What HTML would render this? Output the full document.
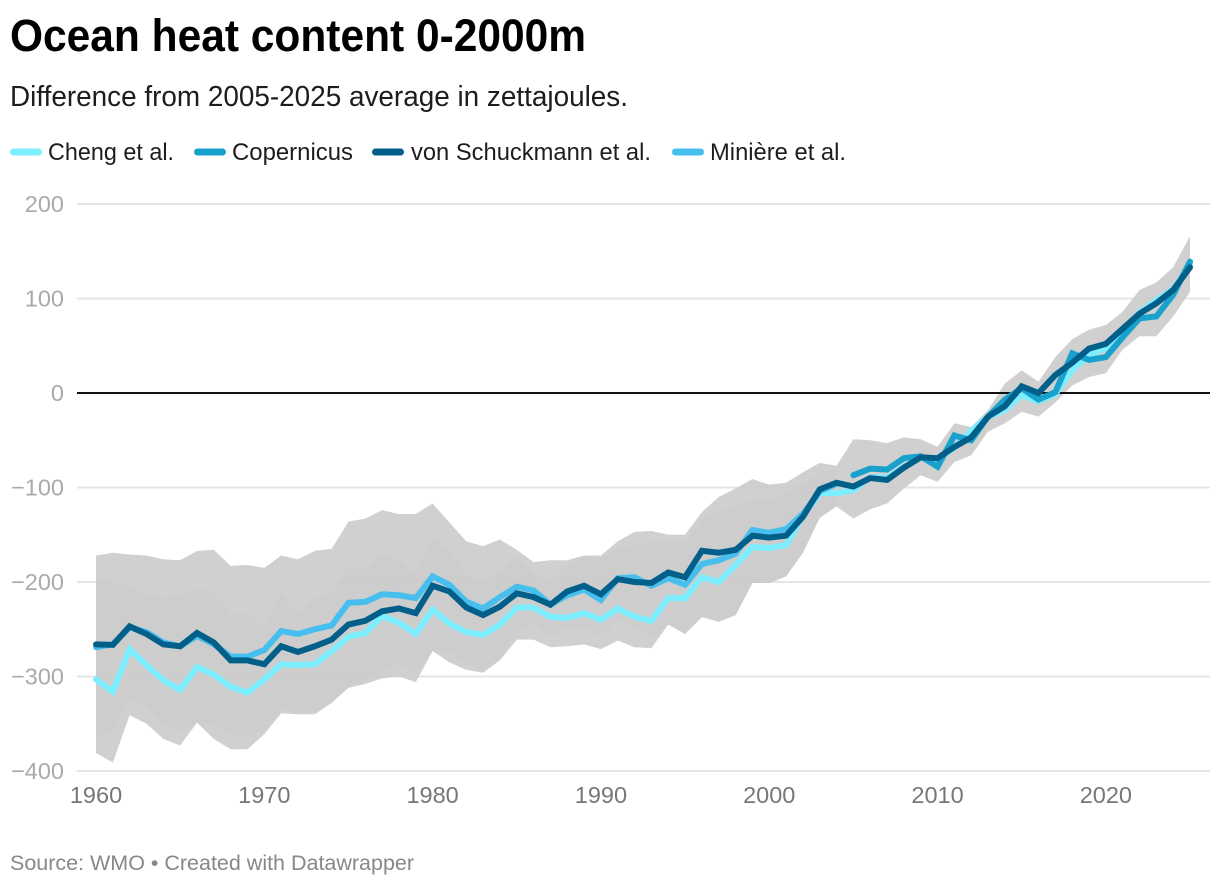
<!DOCTYPE html>
<html lang="en">
<head>
<meta charset="utf-8">
<title>Ocean heat content 0-2000m</title>
<style>
html,body{margin:0;padding:0;background:#fff;width:1220px;height:886px;overflow:hidden}
svg{display:block;font-family:"Liberation Sans",sans-serif}
</style>
</head>
<body>
<svg id="chart" width="1220" height="886" viewBox="0 0 1220 886" xmlns="http://www.w3.org/2000/svg">
  <text x="10" y="51" font-size="45" font-weight="700" fill="#000" textLength="576" lengthAdjust="spacingAndGlyphs">Ocean heat content 0-2000m</text>
  <text x="10" y="106" font-size="28.500" fill="#1d1d1d" textLength="618" lengthAdjust="spacingAndGlyphs">Difference from 2005-2025 average in zettajoules.</text>
  <g>
    <g>
      <rect x="10" y="148.500" width="32" height="7" rx="3.500" fill="#7deeff"/>
      <text x="48" y="160" font-size="24" fill="#1d1d1d" textLength="126" lengthAdjust="spacingAndGlyphs">Cheng et al.</text>
    </g>
    <g>
      <rect x="194" y="148.500" width="32" height="7" rx="3.500" fill="#18a1cd"/>
      <text x="232" y="160" font-size="24" fill="#1d1d1d" textLength="121" lengthAdjust="spacingAndGlyphs">Copernicus</text>
    </g>
    <g>
      <rect x="372" y="148.500" width="32" height="7" rx="3.500" fill="#015f8a"/>
      <text x="411" y="160" font-size="24" fill="#1d1d1d" textLength="240" lengthAdjust="spacingAndGlyphs">von Schuckmann et al.</text>
    </g>
    <g>
      <rect x="672" y="148.500" width="32" height="7" rx="3.500" fill="#47bfee"/>
      <text x="710" y="160" font-size="24" fill="#1d1d1d" textLength="136" lengthAdjust="spacingAndGlyphs">Minière et al.</text>
    </g>
  </g>
  <g id="grid"></g>
  <g id="y-labels"></g>
  <g id="x-labels"></g>
  <g id="bands"></g>
  <g id="zero"></g>
  <g id="lines"></g>
  <text x="10" y="870" font-size="21" fill="#888888" textLength="404" lengthAdjust="spacingAndGlyphs">Source: WMO • Created with Datawrapper</text>
</svg>
<script>
const years = [
  1960,1961,1962,1963,1964,1965,1966,1967,1968,1969,
  1970,1971,1972,1973,1974,1975,1976,1977,1978,1979,
  1980,1981,1982,1983,1984,1985,1986,1987,1988,1989,
  1990,1991,1992,1993,1994,1995,1996,1997,1998,1999,
  2000,2001,2002,2003,2004,2005,2006,2007,2008,2009,
  2010,2011,2012,2013,2014,2015,2016,2017,2018,2019,
  2020,2021,2022,2023,2024,2025
];
const xTicks = [1960,1970,1980,1990,2000,2010,2020];
const yTicks = [200,100,0,-100,-200,-300,-400];

const cheng = [
  -303,-316,-271,-288,-304,-314,-290,-298,-311,-317,
  -303,-287,-288,-287,-273,-258,-254,-236,-243,-255,
  -229,-244,-253,-256,-245,-227,-227,-237,-238,-233,
  -240,-228,-237,-241,-217,-217,-195,-200,-182,-163,
  -164,-161,-130,-106,-106,-103,-89,-90,-78,-68,
  -70,-58,-40,-25,-18,-2,-9,-1,24,40,
  48,66,85,98,110,135
];
const vonSchuckmann = [
  -266,-266.5,-247,-255,-266,-268,-254,-264,-283,-283,
  -287,-268,-274,-268,-261,-245,-241,-231,-228,-233,
  -204,-210,-227,-235,-226,-212,-216,-224,-210,-204,
  -213,-197,-200,-201,-190,-195,-167,-169,-166,-151,
  -153,-151,-131,-102,-95,-99,-90,-92,-79,-68,
  -69,-57,-47,-25,-14,7,0,19,32,47,
  52,68,84,95,109,133
];
const miniereYears = years.slice(0,45);
const miniere = [
  -269,-266,-248,-253,-264,-268,-257,-266,-279,-279,
  -272,-252,-255,-250,-246,-222,-221,-213,-214,-217,
  -194,-203,-221,-228,-216,-205,-209,-224,-214,-208,
  -219,-196,-195,-204,-196,-203,-181,-177,-170,-145,
  -148,-144,-128,-104,-96
];
const copernicusYears = years.slice(45);
const copernicus = [
  -87,-80,-81,-69,-67,
  -78,-45,-50,-25,-7,5,-7,1,42,35,
  38,59,79,81,104,139
];

const outerUpper = [
  -172,-169,-171,-172,-176,-177,-167,-166,-183,-182,
  -185,-172,-176,-167,-165,-136,-133,-124,-128,-128,
  -117,-137,-157,-162,-155,-166,-179,-177,-177,-172,
  -172,-157,-147,-146,-150,-150,-126,-110,-101,-91,
  -97,-95,-84,-74,-77,-49,-50,-53,-47,-49,
  -57,-32,-36,-18,10,24,12,38,57,67,
  72,86,109,117,133,166
];
const outerLower = [
  -381,-391,-341,-350,-366,-373,-349,-366,-377,-377,
  -361,-339,-340,-340,-328,-312,-308,-302,-300,-306,
  -273,-285,-293,-296,-283,-261,-261,-269,-268,-266,
  -271,-262,-269,-270,-245,-255,-237,-242,-235,-201,
  -201,-194,-169,-132,-120,-133,-123,-117,-101,-87,
  -94,-73,-66,-41,-32,-20,-25,-10,8,17,
  21,46,60,60,81,107
];
const innerYears = years.slice(0,45);
const innerUpper = [
  -198,-201,-205,-212,-217,-215,-207,-210,-234,-234,
  -247,-212,-235,-217,-214,-183,-187,-171,-177,-191,
  -155,-165,-193,-200,-189,-173,-191,-200,-182,-173,
  -175,-164,-160,-157,-158,-158,-134,-126,-120,-113,
  -113,-108,-95,-85,-81
];
const innerLower = [
  -364,-360,-322,-333,-349,-358,-349,-351,-360,-364,
  -357,-335,-337,-337,-327,-310,-305,-293,-286,-296,
  -273,-273,-286,-294,-281,-251,-243,-258,-249,-247,
  -258,-240,-247,-259,-245,-255,-237,-242,-235,-201,
  -201,-194,-169,-132,-120
];

const NS = 'http://www.w3.org/2000/svg';
const xScale = function (year) { return 96 + (year - 1960) * (1190 - 96) / 65; };
const yScale = function (value) { return 393 - value * 0.945; };

function make(tag, parent, attrs) {
  const el = document.createElementNS(NS, tag);
  for (const k in attrs) el.setAttribute(k, attrs[k]);
  document.getElementById(parent).appendChild(el);
  return el;
}
function linePath(xs, ys) {
  return xs.map(function (x, i) {
    return (i ? 'L' : 'M') + xScale(x).toFixed(2) + ' ' + yScale(ys[i]).toFixed(2);
  }).join('');
}
function areaPath(xs, up, low) {
  const back = linePath(xs.slice().reverse(), low.slice().reverse()).replace('M', 'L');
  return linePath(xs, up) + back + 'Z';
}

yTicks.forEach(function (t) {
  if (t !== 0) {
    const g = make('line', 'grid', {x1: 77, x2: 1210, y1: yScale(t), y2: yScale(t), stroke: '#e5e5e5', 'stroke-width': 2});
    
    
  }
  const lab = make('text', 'y-labels', {x: 64, y: yScale(t) + 8, 'text-anchor': 'end', 'font-size': 23.5, fill: '#aaaaaa'});
  
  
  lab.textContent = String(t).replace('-', '\u2212');
});

xTicks.forEach(function (t) {
  const lab = make('text', 'x-labels', {x: xScale(t), y: 803, 'text-anchor': 'middle', 'font-size': 23.5, fill: '#777777'});
  
  
  lab.textContent = t;
});

const outerBand = make('path', 'bands', {d: areaPath(years, outerUpper, outerLower), fill: '#cccccc', 'fill-opacity': 0.92});


const innerBand = make('path', 'bands', {d: areaPath(innerYears, innerUpper, innerLower), fill: '#cccccc', 'fill-opacity': 0.92});



const zeroLine = make('line', 'zero', {x1: 77, x2: 1210, y1: yScale(0), y2: yScale(0), stroke: '#111111', 'stroke-width': 2});



function drawLine(xs, ys, color) {
  return make('path', 'lines', {d: linePath(xs, ys), fill: 'none', stroke: color, 'stroke-width': 6, 'stroke-linejoin': 'miter', 'stroke-linecap': 'round'});
}
const lineCheng = drawLine(years, cheng, '#7deeff');


const lineMiniere = drawLine(miniereYears, miniere, '#47bfee');


const lineCopernicus = drawLine(copernicusYears, copernicus, '#18a1cd');


const lineVon = drawLine(years, vonSchuckmann, '#015f8a');


</script>
</body>
</html>
